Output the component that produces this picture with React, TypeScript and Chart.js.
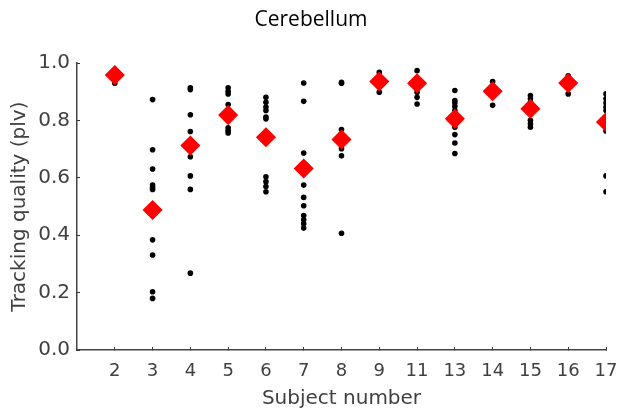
import React, { useEffect, useRef } from "react";
import { Chart, registerables } from "chart.js";

Chart.register(...registerables);

const subjects = ["2", "3", "4", "5", "6", "7", "8", "9", "11", "13", "14", "15", "16", "17"];

const s2 = [0.93, 0.95, 0.96, 0.965];
const s3 = [0.873, 0.698, 0.631, 0.575, 0.567, 0.56, 0.384, 0.331, 0.203, 0.18];
const s4 = [0.914, 0.908, 0.82, 0.762, 0.72, 0.674, 0.607, 0.56, 0.268];
const s5 = [0.914, 0.902, 0.893, 0.856, 0.82, 0.775, 0.766, 0.757];
const s6 = [0.881, 0.864, 0.847, 0.835, 0.812, 0.806, 0.604, 0.587, 0.57, 0.552];
const s7 = [0.931, 0.867, 0.687, 0.575, 0.532, 0.503, 0.469, 0.454, 0.44, 0.425];
const s8 = [0.933, 0.93, 0.769, 0.74, 0.702, 0.677, 0.407];
const s9 = [0.968, 0.95, 0.945, 0.93, 0.899];
const s11 = [0.974, 0.94, 0.93, 0.899, 0.881, 0.858];
const s13 = [0.905, 0.87, 0.861, 0.849, 0.835, 0.81, 0.777, 0.751, 0.722, 0.685];
const s14 = [0.936, 0.91, 0.9, 0.853];
const s15 = [0.887, 0.876, 0.864, 0.84, 0.801, 0.789, 0.777];
const s16 = [0.956, 0.94, 0.93, 0.893];
const s17 = [0.893, 0.876, 0.861, 0.847, 0.835, 0.8, 0.764, 0.607, 0.552];

const trialValues = [s2, s3, s4, s5, s6, s7, s8, s9, s11, s13, s14, s15, s16, s17];

const meanValues = [0.959, 0.488, 0.713, 0.819, 0.742, 0.633, 0.734, 0.936, 0.93, 0.806, 0.902, 0.841, 0.931, 0.795];

const yTicks = [0, 0.2, 0.4, 0.6, 0.8, 1.0];

export default function App() {
  const canvasRef = useRef<HTMLCanvasElement | null>(null);

  useEffect(() => {
    if (!canvasRef.current) return;
    const dots: { x: number; y: number }[] = [];
    trialValues.forEach((vals, i) => {
      vals.forEach((v) => dots.push({ x: i + 1, y: v }));
    });
    const means = meanValues.map((v, i) => ({ x: i + 1, y: v }));

    const chart = new Chart(canvasRef.current, {
      type: "scatter",
      data: {
        datasets: [
          {
            label: "Mean",
            data: means,
            pointStyle: "rectRot",
            pointRadius: 9,
            pointBackgroundColor: "#ff0000",
            pointBorderColor: "#ff0000",
            pointBorderWidth: 1.5,
          },
          {
            label: "Trials",
            data: dots,
            pointStyle: "circle",
            pointRadius: 2.8,
            pointBackgroundColor: "#000000",
            pointBorderColor: "#000000",
            pointBorderWidth: 0,
          },
        ],
      },
      options: {
        animation: false,
        responsive: true,
        maintainAspectRatio: false,
        layout: { padding: { left: 4, right: 0, top: 0, bottom: 0 } },
        plugins: {
          legend: { display: false },
          tooltip: { enabled: false },
          title: {
            display: true,
            text: "Cerebellum",
            color: "#000000",
            font: { family: "'Open Sans'", size: 21, weight: "normal", lineHeight: 1.2 },
            padding: { top: 7, bottom: 31 },
          },
        },
        scales: {
          x: {
            type: "linear",
            min: 0,
            max: 14,
            afterBuildTicks: (scale: any) => {
              scale.ticks = subjects.map((_, i) => ({ value: i + 1 }));
            },
            afterFit: (scale: any) => {
              scale.height = 61;
              scale.paddingRight = 12;
            },
            ticks: {
              autoSkip: false,
              maxRotation: 0,
              padding: 14,
              color: "#404040",
              font: { family: "'DejaVu Sans'", size: 18 },
              callback: (v: any) => subjects[Math.round(Number(v)) - 1] ?? "",
            },
            grid: { drawOnChartArea: false, drawTicks: true, tickLength: -3, color: "#333333", lineWidth: 1 },
            border: { display: true, color: "#444444", width: 1.5 },
            title: {
              display: true,
              text: "Subject number",
              color: "#404040",
              font: { family: "'DejaVu Sans'", size: 20 },
              padding: { top: 0, bottom: 0 },
            },
          },
          y: {
            min: 0,
            max: 1,
            afterBuildTicks: (scale: any) => {
              scale.ticks = yTicks.map((v) => ({ value: v }));
            },
            afterFit: (scale: any) => {
              scale.width = 73;
            },
            ticks: {
              padding: 10,
              color: "#404040",
              font: { family: "'DejaVu Sans'", size: 20 },
              callback: (v: any) => Number(v).toFixed(1),
            },
            grid: { drawOnChartArea: false, drawTicks: true, tickLength: -3, color: "#333333", lineWidth: 1 },
            border: { display: true, color: "#444444", width: 1.5 },
            title: {
              display: true,
              text: "Tracking quality (plv)",
              color: "#404040",
              font: { family: "'DejaVu Sans'", size: 20 },
              padding: { top: 4, bottom: 0 },
            },
          },
        },
      },
    });
    return () => chart.destroy();
  }, []);

  return (
    <div style={{ position: "absolute", left: 0, top: 0, width: 618, height: 411, background: "#ffffff" }}>
      <canvas ref={canvasRef} />
    </div>
  );
}
